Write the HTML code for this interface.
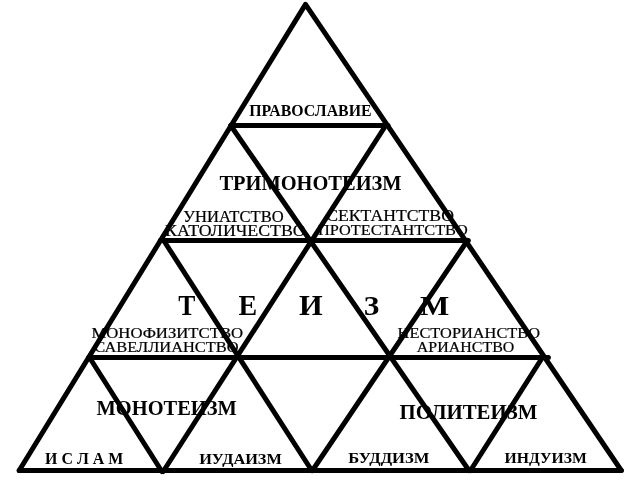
<!DOCTYPE html>
<html><head><meta charset="utf-8"><style>
html,body{margin:0;padding:0;background:#fff;width:640px;height:480px;overflow:hidden}
svg{display:block}
text{font-family:"Liberation Serif",serif;fill:#000}
</style></head><body>
<div style="will-change:transform;width:640px;height:480px"><svg width="640" height="480" viewBox="0 0 640 480">
<rect width="640" height="480" fill="#fff"/>
<g fill="none" stroke="#000" stroke-width="5" stroke-linejoin="round" stroke-linecap="round">
<polygon points="19.2,470.5 305.5,4.4 621.3,470.5"/>
<line x1="231.0" y1="125.5" x2="388.0" y2="125.5"/>
<line x1="160.4" y1="240.5" x2="468.3" y2="240.5"/>
<line x1="88.6" y1="357.5" x2="548.4" y2="357.5"/>
<line x1="19.2" y1="470.5" x2="621.3" y2="470.5"/>
<line x1="230.7" y1="125.5" x2="469.0" y2="470.5"/>
<line x1="385.7" y1="125.5" x2="163.2" y2="471.5"/>
<line x1="163.7" y1="240.5" x2="311.7" y2="470.5"/>
<line x1="467.5" y1="240.5" x2="312.4" y2="470.5"/>
<line x1="89.5" y1="357.5" x2="161.9" y2="471.5"/>
<line x1="542.4" y1="357.5" x2="470.5" y2="470.5"/>
</g>
<g>
<text transform="translate(249.28,115.50) scale(1.0061,1)" font-weight="bold" font-size="15.76">ПРАВОСЛАВИЕ</text>
<text transform="translate(219.39,190.00) scale(0.9819,1)" font-weight="bold" font-size="20.83">ТРИМОНОТЕИЗМ</text>
<text transform="translate(183.25,221.90) scale(1.0260,1)" font-weight="normal" font-size="16.14" stroke="#000" stroke-width="0.2">УНИАТСТВО</text>
<text transform="translate(165.07,235.50) scale(1.1191,1)" font-weight="normal" font-size="15.91" stroke="#000" stroke-width="0.2">КАТОЛИЧЕСТВО</text>
<text transform="translate(326.19,221.20) scale(1.1015,1)" font-weight="normal" font-size="16.06" stroke="#000" stroke-width="0.2">СЕКТАНТСТВО</text>
<text transform="translate(318.01,234.60) scale(1.0563,1)" font-weight="normal" font-size="15.45" stroke="#000" stroke-width="0.2">ПРОТЕСТАНТСТВО</text>
<text transform="translate(91.40,338.10) scale(1.1799,1)" font-weight="normal" font-size="14.17" stroke="#000" stroke-width="0.2">МОНОФИЗИТСТВО</text>
<text transform="translate(94.34,351.90) scale(1.1527,1)" font-weight="normal" font-size="14.24" stroke="#000" stroke-width="0.2">САВЕЛЛИАНСТВО</text>
<text transform="translate(397.61,338.10) scale(1.1243,1)" font-weight="normal" font-size="14.55" stroke="#000" stroke-width="0.2">НЕСТОРИАНСТВО</text>
<text transform="translate(416.74,352.25) scale(1.0818,1)" font-weight="normal" font-size="14.77" stroke="#000" stroke-width="0.2">АРИАНСТВО</text>
<text transform="translate(96.59,414.75) scale(0.9808,1)" font-weight="bold" font-size="20.83">МОНОТЕИЗМ</text>
<text transform="translate(399.58,418.75) scale(1.0009,1)" font-weight="bold" font-size="20.83">ПОЛИТЕИЗМ</text>
<text transform="translate(45.06,464.00) scale(0.9319,1)" font-weight="bold" font-size="17.12">И С Л А М</text>
<text transform="translate(199.16,464.00) scale(1.0990,1)" font-weight="bold" font-size="14.85">ИУДАИЗМ</text>
<text transform="translate(348.35,463.40) scale(1.1187,1)" font-weight="bold" font-size="14.85">БУДДИЗМ</text>
<text transform="translate(504.46,463.40) scale(1.0591,1)" font-weight="bold" font-size="14.85">ИНДУИЗМ</text>
<text transform="translate(178.37,315.00) scale(0.8663,1)" font-weight="bold" font-size="29.54">Т</text>
<text transform="translate(238.58,314.70) scale(0.9807,1)" font-weight="bold" font-size="28.55">Е</text>
<text transform="translate(299.04,314.70) scale(1.0591,1)" font-weight="bold" font-size="28.77">И</text>
<text transform="translate(363.78,314.60) scale(1.0485,1)" font-weight="bold" font-size="27.88">З</text>
<text transform="translate(419.94,314.60) scale(1.0951,1)" font-weight="bold" font-size="28.31">М</text>
</g>
</svg></div>
</body></html>
